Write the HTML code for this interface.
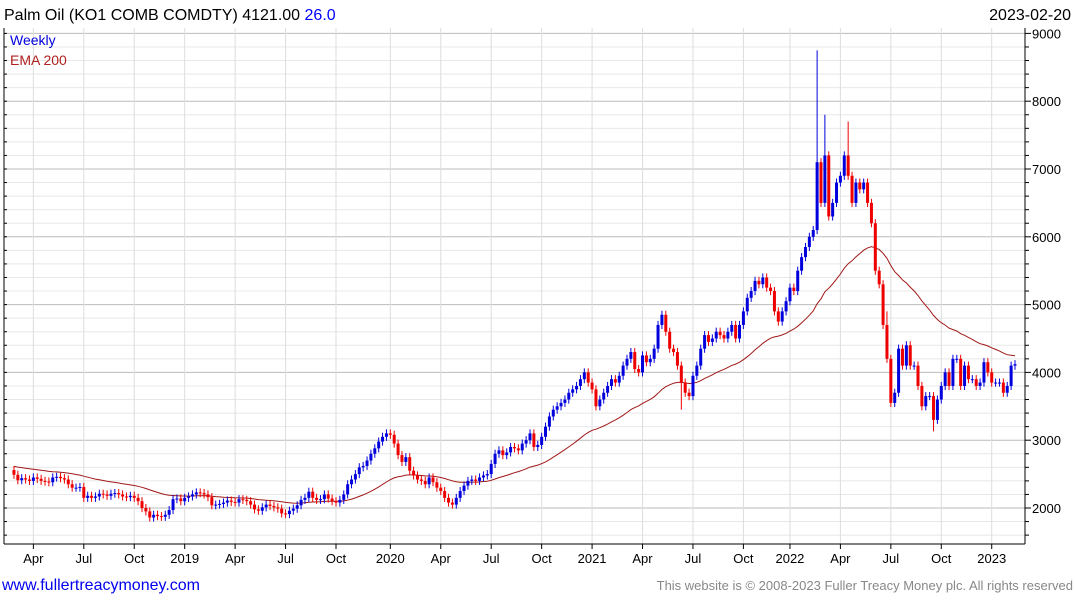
<!DOCTYPE html>
<html><head><meta charset="utf-8"><style>
body{margin:0;background:#fff;width:1075px;height:600px;overflow:hidden;font-family:"Liberation Sans",sans-serif}
svg{display:block}
</style></head><body>
<svg id="c" width="1075" height="600" font-family="Liberation Sans, sans-serif">
<text x="4" y="20" font-size="16" fill="#000">Palm Oil (KO1 COMB COMDTY) 4121.00 <tspan fill="#0000ff">26.0</tspan></text>
<text x="1071" y="20" font-size="16" text-anchor="end" fill="#000">2023-02-20</text>
<g id="grid"></g>
<g id="ema"></g>
<g id="candles"></g>
<g id="axes"></g>
<text x="10" y="45" font-size="14" fill="#0000dd">Weekly</text>
<text x="10" y="65" font-size="14" fill="#b02020">EMA 200</text>
<text x="2" y="590" font-size="16" fill="#0000ee">www.fullertreacymoney.com</text>
<text x="1073" y="590" font-size="13" fill="#888" text-anchor="end">This website is © 2008-2023 Fuller Treacy Money plc. All rights reserved</text>
</svg>
<script>
const closes=[2490,2410,2440,2420,2400,2450,2430,2400,2390,2380,2450,2460,2440,2420,2350,2300,2300,2310,2150,2180,
2150,2170,2210,2200,2180,2210,2220,2200,2170,2160,2180,2150,2100,2000,1950,1860,1900,1880,1870,1900,
1970,2130,2140,2100,2150,2170,2200,2230,2220,2200,2160,2040,2050,2060,2080,2110,2090,2080,2130,2120,
2100,2050,1980,1960,2010,2050,2030,2010,1990,1920,1910,1960,1990,2040,2120,2150,2240,2150,2120,2130,
2200,2140,2100,2080,2120,2200,2350,2420,2500,2600,2620,2700,2800,2880,2980,3050,3100,3080,2950,2780,
2680,2750,2550,2480,2420,2400,2350,2450,2380,2300,2250,2150,2080,2050,2150,2250,2330,2400,2420,2400,
2450,2480,2500,2650,2800,2850,2780,2820,2900,2880,2850,2950,3000,3100,2900,2930,3050,3200,3350,3450,
3500,3550,3600,3700,3750,3800,3900,4000,3850,3750,3500,3600,3700,3800,3900,3850,3950,4100,4200,4300,
4050,4000,4250,4150,4200,4350,4700,4850,4600,4350,4300,4100,3850,3700,3650,3950,4100,4350,4550,4450,
4500,4600,4550,4500,4600,4700,4500,4700,4900,5100,5200,5350,5300,5400,5250,5200,4900,4750,4900,5050,
5250,5200,5500,5700,5850,6000,6100,7100,6500,7200,6300,6500,6800,6900,7200,6900,6500,6800,6700,6800,
6500,6200,5500,5300,4700,4200,3550,3700,4350,4100,4400,4100,4100,3800,3500,3650,3650,3300,3600,3800,
4000,3800,4200,4200,3800,4100,3900,3900,3800,3850,4150,4000,3850,3850,3850,3700,3800,4100,4121];
const firstOpen=2560;
const spikeIdx=[207,215,209,225,237,172];
const spikeHigh=[8750,7700,7800,4900,null,null];
const spikeLow=[null,null,null,null,3130,3450];
const yTicks=[2000,3000,4000,5000,6000,7000,8000,9000];
const xLabels=['Apr','Jul','Oct','2019','Apr','Jul','Oct','2020','Apr','Jul','Oct','2021','Apr','Jul','Oct','2022','Apr','Jul','Oct','2023'];
const xLabelPos=[5,18,31,44,57,70,83,97,110,123,136,149,162,175,188,200,213,226,239,252];
const emaPeriod=40, emaSeed=2620;

const L=4,R=1025,T=28,B=544,step=3.88;
const n=closes.length;
const X=i=>1015-(n-1-i)*step;
const Y=v=>508-(v-2000)*0.0678;
const NS='http://www.w3.org/2000/svg';
function mk(tag,attrs,parent){const e=document.createElementNS(NS,tag);for(const k in attrs)e.setAttribute(k,attrs[k]);parent.appendChild(e);return e;}
const grid=document.getElementById('grid'),axes=document.getElementById('axes'),cg=document.getElementById('candles'),eg=document.getElementById('ema');
for(let v=1600;v<=9200;v+=200){const y=Y(v);if(y<T||y>B)continue;
 const major=v%1000===0;
 const l=mk('line',{x1:L,x2:R,y1:y,y2:y,stroke:major?'#bbb':'#e8e8e8','stroke-width':1},grid);
 
 
 const t=mk('line',{x1:R,x2:R+(major?6:4),y1:y,y2:y,stroke:'#000'},axes);
 
 
 const t2=mk('line',{x1:L,x2:L+3,y1:y,y2:y,stroke:'#000'},axes);
 
 
}
yTicks.forEach(v=>{const t=mk('text',{x:1032,y:Y(v)+5,'font-size':13,fill:'#000'},axes);t.textContent=v;
 
 });
xLabels.forEach((s,k)=>{const x=X(xLabelPos[k]);
 const g=mk('line',{x1:x,x2:x,y1:T,y2:B,stroke:'#ddd'},grid);
 
 
 const tk=mk('line',{x1:x,x2:x,y1:B,y2:B+5,stroke:'#000'},axes);
 
 
 const t=mk('text',{x:x,y:563,'font-size':13,'text-anchor':'middle',fill:'#000'},axes);t.textContent=s;
 
 });
const f1=mk('line',{x1:L,x2:L,y1:T,y2:B,stroke:'#000'},axes);


const f2=mk('line',{x1:R,x2:R,y1:T,y2:B,stroke:'#000'},axes);


const f3=mk('line',{x1:L,x2:R,y1:B,y2:B,stroke:'#000'},axes);


for(let i=0;i<n;i++){
 const o=i===0?firstOpen:closes[i-1],c=closes[i];
 let hi=Math.max(o,c)+60,lo=Math.min(o,c)-60;
 const k=spikeIdx.indexOf(i);
 if(k>=0){if(spikeHigh[k]!=null)hi=spikeHigh[k];if(spikeLow[k]!=null)lo=spikeLow[k];}
 const col=c>=o?'#0000dd':'#ee0000';const x=X(i);
 const w=mk('line',{x1:x,x2:x,y1:Y(hi),y2:Y(lo),stroke:col,'stroke-width':1},cg);
 
 
 const bt=Y(Math.max(o,c)),bb=Y(Math.min(o,c));
 const r=mk('rect',{x:x-1.5,y:bt,width:3,height:Math.max(1,bb-bt),fill:col},cg);
 
 
}
const a=2/(emaPeriod+1);let e=emaSeed,pts=[];
for(let i=0;i<n;i++){e=e+a*(closes[i]-e);pts.push(X(i).toFixed(1)+','+Y(e).toFixed(1));}
const pl=mk('polyline',{points:pts.join(' '),fill:'none',stroke:'#a01818','stroke-width':1},eg);


</script>
</body></html>
